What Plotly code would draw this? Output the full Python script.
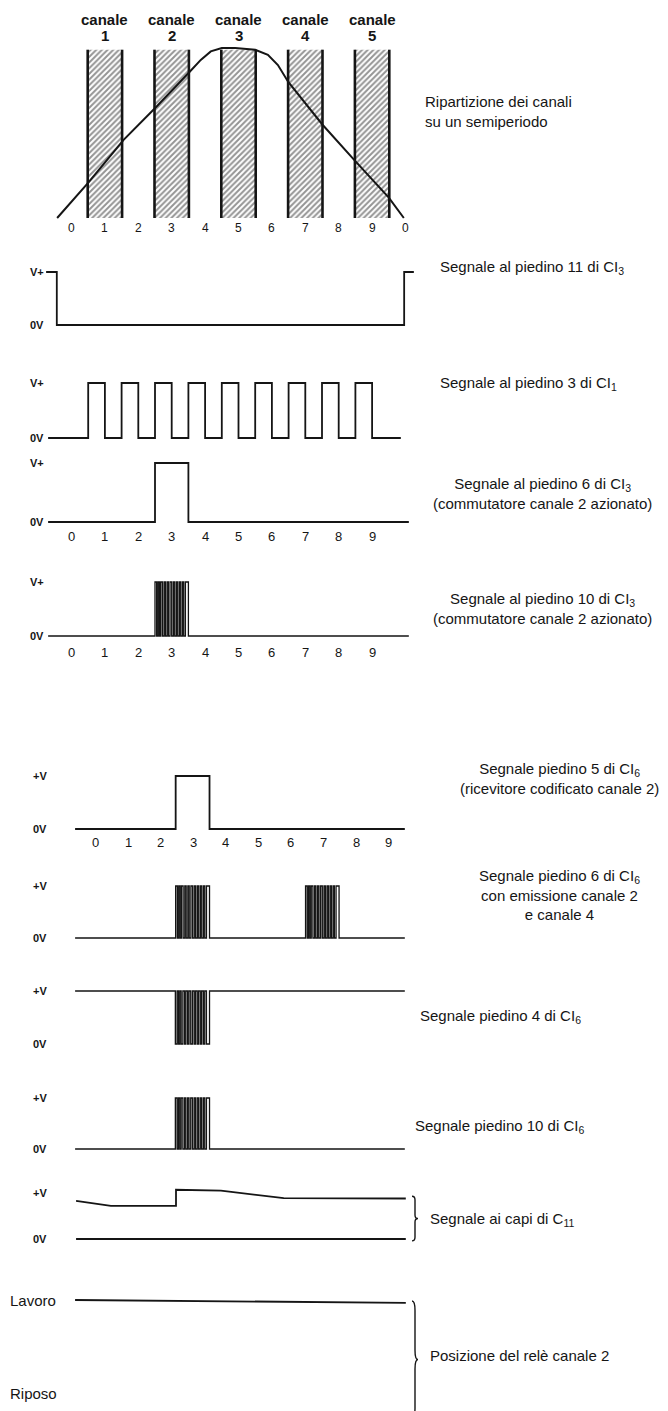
import plotly.graph_objects as go

W, H = 668, 1411
FONT = "Liberation Sans, Arial, Helvetica, sans-serif"
INK = "#151515"

# ---------------- data ----------------
# half period split into 10 time slots, 5 channels on the odd slots
CANALI = ["1", "2", "3", "4", "5"]
CANALI_X = [1, 3, 5, 7, 9]
BAR_TOP = [0.99, 0.99, 0.99, 0.99, 0.99]
CURVE_X = [-0.43, 0.51, 1.56, 2.52, 3.54, 3.87, 4.17, 4.5, 4.9, 5.5, 5.88, 6.18, 6.49, 7.51, 8.47, 9.5, 9.95]
CURVE_Y = [0.0, 0.21, 0.46, 0.65, 0.86, 0.93, 0.98, 1.0, 1.0, 0.99, 0.96, 0.90, 0.80, 0.55, 0.34, 0.12, 0.0]
TOP_TICKS = ["0", "1", "2", "3", "4", "5", "6", "7", "8", "9", "0"]
SLOT_TICKS = ["0", "1", "2", "3", "4", "5", "6", "7", "8", "9"]

# pin 11 CI3
P11_X = [-0.76, -0.44, -0.44, 9.96, 9.96, 10.25]
P11_Y = [1, 1, 0, 0, 1, 1]
# pin 3 CI1 (clock)
CLK_RISE = [0.5, 1.5, 2.5, 3.5, 4.5, 5.5, 6.5, 7.5, 8.5]
CLK_FALL = [1.0, 2.0, 3.0, 4.0, 5.0, 6.0, 7.0, 8.0, 9.0]
CLK_SPAN = [-0.7, 9.86]
# pin 6 CI3
P6_X = [-0.7, 2.5, 2.5, 3.5, 3.5, 10.1]
P6_Y = [0, 0, 1, 1, 0, 0]
# burst pattern inside one slot (fraction of the slot)
BURST_RISE = [0.00, 0.09, 0.17, 0.27, 0.36, 0.45, 0.55, 0.64, 0.73, 0.82, 0.91]
BURST_FALL = [0.05, 0.13, 0.22, 0.31, 0.40, 0.50, 0.59, 0.68, 0.77, 0.86, 1.00]
P10_CI3_SPAN = [-0.7, 10.1]
P10_CI3_BURSTS = [(2.5, 3.5)]
# receiver side
P5_CI6_X = [-0.63, 2.46, 2.46, 3.5, 3.5, 9.5]
P5_CI6_Y = [0, 0, 1, 1, 0, 0]
P6_CI6_SPAN = [-0.63, 9.5]
P6_CI6_BURSTS = [(2.46, 3.5), (6.45, 7.48)]
P4_CI6_SPAN = [-0.63, 9.5]
P4_CI6_BURSTS = [(2.45, 3.5)]
P10_CI6_SPAN = [-0.63, 9.5]
P10_CI6_BURSTS = [(2.45, 3.5)]
C11_X = [-0.6, 0.47, 2.47, 2.47, 3.85, 5.78, 9.53]
C11_Y = [0.83, 0.72, 0.72, 1.07, 1.05, 0.89, 0.88]
C11_ZERO_X = [-0.6, 9.53]
RELE_X = [-0.63, 9.53]
RELE_Y = [1.0, 0.97]

# ---------------- layout helpers ----------------
# pixel rows of the 0 and 1 levels of each panel
ROWS = [
    (210, 40),    # top: channels
    (317, 264),   # pin 11 CI3
    (430, 375),   # pin 3 CI1
    (514, 455),   # pin 6 CI3
    (628, 574),   # pin 10 CI3
    (821, 768),   # pin 5 CI6
    (930, 878),   # pin 6 CI6
    (1036, 983),  # pin 4 CI6
    (1141, 1090), # pin 10 CI6
    (1231, 1185), # C11
    (1385, 1292), # relay
]


def y_range(py0, py1):
    k = py0 - py1
    return [(py0 - H) / k, py0 / k]


def x_range(px0, step):
    return [-px0 / step, (W - px0) / step]


def yname(i):
    return "y" if i == 0 else f"y{i + 1}"


def square(span, rises, falls, lo=0, hi=1):
    xs, ys = [span[0]], [lo]
    for r, f in zip(rises, falls):
        xs += [r, r, f, f]
        ys += [lo, hi, hi, lo]
    xs.append(span[1])
    ys.append(lo)
    return xs, ys


def burst(span, bursts, lo=0, hi=1):
    rises, falls = [], []
    for a, b in bursts:
        w = b - a
        rises += [a + r * w for r in BURST_RISE]
        falls += [a + f * w for f in BURST_FALL]
    return square(span, rises, falls, lo, hi)


fig = go.Figure()


def line(xs, ys, row, xa="x", width=1.8, color=INK):
    fig.add_trace(go.Scatter(x=xs, y=ys, mode="lines", xaxis=xa, yaxis=yname(row),
                             line=dict(color=color, width=width), hoverinfo="skip"))


# top: hatched channel bars + sine half period
fig.add_trace(go.Bar(
    x=CANALI_X, y=BAR_TOP, width=1.03, xaxis="x", yaxis="y",
    marker=dict(color="white", line_width=0,
                pattern=dict(shape="/", fgcolor="#2a2a2a", bgcolor="white", size=4, solidity=0.5)),
    hoverinfo="skip",
))
ex, ey = [], []
for c, t in zip(CANALI_X, BAR_TOP):
    for e in (c - 0.515, c + 0.515):
        ex += [e, e, None]
        ey += [0, t, None]
line(ex, ey, 0, width=2.6)
line(CURVE_X, CURVE_Y, 0, width=2.0)

# upper panels
line(P11_X, P11_Y, 1)
cx, cy = square(CLK_SPAN, CLK_RISE, CLK_FALL)
line(cx, cy, 2)
line(P6_X, P6_Y, 3)
bx, by = burst(P10_CI3_SPAN, P10_CI3_BURSTS)
line(bx, by, 4, width=1.3)

# lower panels
line(P5_CI6_X, P5_CI6_Y, 5, xa="x2")
bx, by = burst(P6_CI6_SPAN, P6_CI6_BURSTS)
line(bx, by, 6, xa="x2", width=1.3)
bx, by = burst(P4_CI6_SPAN, P4_CI6_BURSTS, lo=1, hi=0)
line(bx, by, 7, xa="x2", width=1.3)
bx, by = burst(P10_CI6_SPAN, P10_CI6_BURSTS)
line(bx, by, 8, xa="x2", width=1.3)
line(C11_X, C11_Y, 9, xa="x2")
line(C11_ZERO_X, [0, 0], 9, xa="x2")
line(RELE_X, RELE_Y, 10, xa="x2")

# ---------------- text ----------------
ann = []


def text(s, x, y, xref="paper", yref="paper", size=15, xanchor="center", align="center", **kw):
    ann.append(dict(text=s, x=x, y=y, xref=xref, yref=yref, showarrow=False,
                    xanchor=xanchor, yanchor="middle", align=align,
                    font=dict(family=FONT, size=size, color=INK), **kw))


def py(p):
    return 1 - p / H


for c, n in zip(CANALI_X, CANALI):
    text("<b>canale</b>", c, py(11), xref="x", size=15)
    text(f"<b>{n}</b>", c, py(28), xref="x", size=15)
for i, t in enumerate(TOP_TICKS):
    text(t, i, -0.06, xref="x", yref="y", size=12)
for row, ty in ((3, -0.25), (4, -0.30)):
    for i, t in enumerate(SLOT_TICKS):
        text(t, i, ty, xref="x", yref=yname(row), size=13)
for i, t in enumerate(SLOT_TICKS):
    text(t, i, -0.25, xref="x2", yref=yname(5), size=13)

# level labels
for row in (1, 2, 3, 4):
    text("<b>V+</b>", 29 / W, 1, yref=yname(row), size=11)
    text("<b>0V</b>", 29 / W, 0, yref=yname(row), size=11)
for row in (5, 6, 7, 8, 9):
    text("<b>+V</b>", 32 / W, 1, yref=yname(row), size=11)
    text("<b>0V</b>", 32 / W, 0, yref=yname(row), size=11)
text("Lavoro", 0, 1, yref=yname(10), xanchor="left")
text("Riposo", 0, 0, yref=yname(10), xanchor="left")

# descriptions
text("Ripartizione dei canali<br>su un semiperiodo", 415 / W, py(104), xanchor="left", align="left")
text("Segnale al piedino 11 di CI<sub>3</sub>", 430 / W, py(260), xanchor="left")
text("Segnale al piedino 3 di CI<sub>1</sub>", 430 / W, py(375), xanchor="left")
text("Segnale al piedino 6 di CI<sub>3</sub><br>(commutatore canale 2 azionato)", 534 / W, py(485))
text("Segnale al piedino 10 di CI<sub>3</sub><br>(commutatore canale 2 azionato)", 534 / W, py(600))
text("Segnale piedino 5 di CI<sub>6</sub><br>(ricevitore codificato canale 2)", 551 / W, py(771))
text("Segnale piedino 6 di CI<sub>6</sub><br>con emissione canale 2<br>e canale 4", 551 / W, py(887))
text("Segnale piedino 4 di CI<sub>6</sub>", 410 / W, py(1008), xanchor="left")
text("Segnale piedino 10 di CI<sub>6</sub>", 405 / W, py(1118), xanchor="left")
text("Segnale ai capi di C<sub>11</sub>", 420 / W, py(1211), xanchor="left")
text("Posizione del relè canale 2", 420 / W, py(1347), xanchor="left")


def brace(x_px, y_top, y_bot, yref):
    x0 = x_px / W
    a = 3 / W
    ym = (y_top + y_bot) / 2
    d = (y_top - y_bot) * 0.08
    path = (f"M {x0},{y_top} Q {x0 + a},{y_top} {x0 + a},{y_top - d} "
            f"L {x0 + a},{ym + d} Q {x0 + a},{ym} {x0 + 2 * a},{ym} "
            f"Q {x0 + a},{ym} {x0 + a},{ym - d} L {x0 + a},{y_bot + d} "
            f"Q {x0 + a},{y_bot} {x0},{y_bot}")
    return dict(type="path", path=path, xref="paper", yref=yref,
                line=dict(color=INK, width=1.4))


shapes = [brace(404, 0.93, -0.04, yname(9)), brace(404, 0.99, -0.27, yname(10))]

layout = dict(
    width=W, height=H, margin=dict(l=0, r=0, t=0, b=0),
    paper_bgcolor="white", plot_bgcolor="white",
    showlegend=False, barmode="overlay",
    annotations=ann, shapes=shapes,
    xaxis=dict(domain=[0, 1], range=x_range(63.5, 33.4), visible=False, anchor="y"),
    xaxis2=dict(domain=[0, 1], range=x_range(87.6, 32.55), visible=False, overlaying="x", anchor="y"),
)
for i, (p0, p1) in enumerate(ROWS):
    key = "yaxis" if i == 0 else f"yaxis{i + 1}"
    ax = dict(domain=[0, 1], range=y_range(p0, p1), visible=False, anchor="x")
    if i > 0:
        ax["overlaying"] = "y"
    layout[key] = ax

fig.update_layout(**layout)
fig.write_html("out.html")
